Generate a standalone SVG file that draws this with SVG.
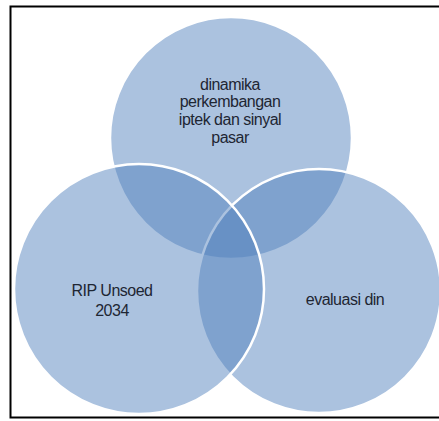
<svg xmlns="http://www.w3.org/2000/svg" width="439" height="421" viewBox="0 0 439 421">
  <style>
    .c { fill: #4f7fbc; fill-opacity: 0.48; stroke: #ffffff; stroke-width: 2.5; }
    .t { font-family: "Liberation Sans", Arial, sans-serif; font-size: 16px; fill: #1e2633; text-anchor: middle; letter-spacing: -0.5px; }
  </style>
  <rect x="0" y="0" width="439" height="421" fill="#ffffff"/>
  <rect x="10.5" y="6.5" width="440" height="411" fill="none" stroke="#000000" stroke-width="2"/>
  <g id="top-circle">
    <circle class="c" cx="231" cy="138" r="121"/>
    <text class="t" x="230" y="90">dinamika</text>
    <text class="t" x="230" y="107">perkembangan</text>
    <text class="t" x="230" y="125">iptek dan sinyal</text>
    <text class="t" x="230" y="143">pasar</text>
  </g>
  <g id="right-circle">
    <circle class="c" cx="319" cy="291" r="122"/>
    <text class="t" x="345" y="305">evaluasi din</text>
  </g>
  <g id="left-circle">
    <circle class="c" cx="139" cy="289" r="125"/>
    <text class="t" x="112" y="296">RIP Unsoed</text>
    <text class="t" x="112" y="316">2034</text>
  </g>
  <g id="connectors"/>
</svg>
